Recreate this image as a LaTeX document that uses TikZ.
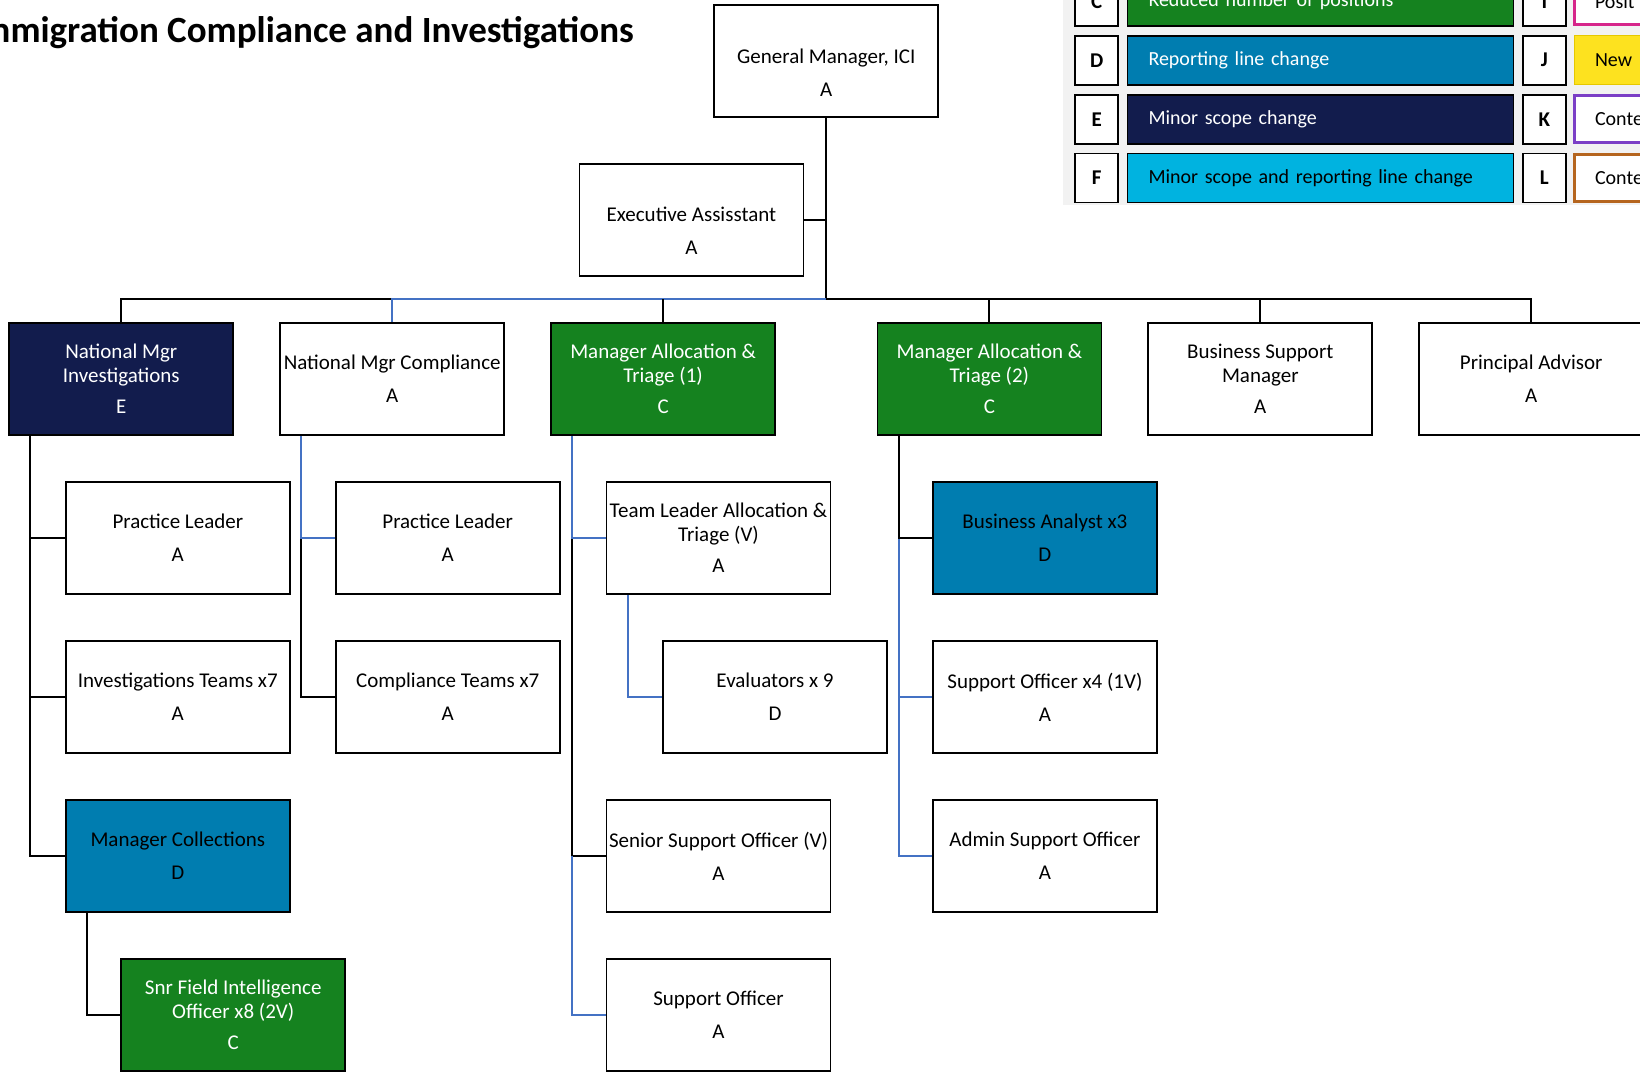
\documentclass[tikz,border=0pt]{standalone}
\usepackage{fontspec}
\setmainfont{Carlito}
\usetikzlibrary{backgrounds}
\definecolor{navyE}{HTML}{121C4D}
\definecolor{greenC}{HTML}{15821F}
\definecolor{blueD}{HTML}{007DB0}
\definecolor{cyanF}{HTML}{00B3E0}
\definecolor{lineblue}{HTML}{4472C4}
\definecolor{legbg}{HTML}{F2F2F2}
\definecolor{pinkI}{HTML}{D6258A}
\definecolor{yellowJ}{HTML}{FDE21F}
\definecolor{yellowJb}{HTML}{E6C800}
\definecolor{purpleK}{HTML}{7B3FC6}
\definecolor{brownL}{HTML}{B5651E}
\newcommand\orgnodefont{\fontsize{21}{24}\selectfont}
\newcommand\orgtitlefont{\fontsize{37}{40}\selectfont\bfseries}
\newcommand\orglegfont{\fontsize{20}{22}\selectfont}
\newcommand\orgletfont{\fontsize{21}{22}\selectfont\bfseries}
\tikzset{
  orgbox/.style={draw=black, line width=1.8pt, fill=white, minimum width=224pt, minimum height=112pt,
    inner sep=0pt, align=center, font=\orgnodefont, text=black},
  navybox/.style={orgbox, fill=navyE, text=white},
  greenbox/.style={orgbox, fill=greenC, text=white},
  bluebox/.style={orgbox, fill=blueD, text=black},
  conn/.style={draw=black, line width=2pt},
  bconn/.style={draw=lineblue, line width=2pt},
  letbox/.style={draw=black, line width=1.8pt, fill=white, minimum width=43pt, minimum height=49pt,
    inner sep=0pt, font=\orgletfont},
  colbox/.style={draw=black, line width=1.8pt, text width=344pt, inner xsep=21pt, inner ysep=0pt,
    minimum height=49pt, align=left, font=\orglegfont},
  rbox/.style={line width=3pt, fill=white, text width=100pt, inner xsep=21pt, inner ysep=0pt,
    minimum height=47pt, align=left, font=\orglegfont, text=black}
}
\begin{document}
\begin{tikzpicture}[x=1pt,y=-1pt]
\useasboundingbox (0,0) rectangle (1640,1073);
% title
\node[anchor=base east, font=\orgtitlefont, inner sep=0pt] (title) at (634,43) {Immigration Compliance and Investigations};
% legend panel
\fill[legbg] (1062.7,-5) rectangle (1650,205);
\node[letbox] (lC) at (1096.7,1.4) {C};
\node[colbox, fill=greenC, text=white] (cC) at (1320.5,1.4) {Reduced number of positions};
\node[letbox] (lI) at (1544.3,1.4) {I};
\node[rbox, draw=pinkI] (rI) at (1645,1.4) {Posit};
\node[letbox] (lD) at (1096.7,60.2) {D};
\node[colbox, fill=blueD, text=white] (cD) at (1320.5,60.2) {Reporting line change};
\node[letbox] (lJ) at (1544.3,60.2) {J};
\node[rbox, draw=yellowJb, line width=1pt, fill=yellowJ, minimum height=49pt] (rJ) at (1645,60.2) {New};
\node[letbox] (lE) at (1096.7,119.2) {E};
\node[colbox, fill=navyE, text=white] (cE) at (1320.5,119.2) {Minor scope change};
\node[letbox] (lK) at (1544.3,119.2) {K};
\node[rbox, draw=purpleK] (rK) at (1645,119.2) {Conte};
\node[letbox] (lF) at (1096.7,178.0) {F};
\node[colbox, fill=cyanF, text=black] (cF) at (1320.5,178.0) {Minor scope and reporting line change};
\node[letbox] (lL) at (1544.3,178.0) {L};
\node[rbox, draw=brownL] (rL) at (1645,178.0) {Conte};
% top
\node[orgbox] (gm) at (826.3,61.2) {\rule{0pt}{38pt}General Manager, ICI\\[9pt]A};
\node[orgbox] (ea) at (691.4,220.2) {\rule{0pt}{36pt}Executive Assisstant\\[9pt]A};
% row 1
\node[navybox] (nmi) at (121.3,379.1) {National Mgr\\Investigations\\[7pt]E};
\node[orgbox] (nmc) at (392.2,379.1) {National Mgr Compliance\\[9pt]A};
\node[greenbox] (mat1) at (663.1,379.1) {Manager Allocation \&\\Triage (1)\\[7pt]C};
\node[greenbox] (mat2) at (989.4,379.1) {Manager Allocation \&\\Triage (2)\\[7pt]C};
\node[orgbox] (bsm) at (1260.3,379.1) {Business Support\\Manager\\[7pt]A};
\node[orgbox] (pa) at (1531.2,379.1) {Principal Advisor\\[9pt]A};
% children
\node[orgbox] (pl1) at (177.8,538.1) {Practice Leader\\[9pt]A};
\node[orgbox] (it) at (177.8,697.1) {Investigations Teams x7\\[9pt]A};
\node[bluebox] (mc) at (177.8,856.1) {Manager Collections\\[9pt]D};
\node[greenbox] (sfio) at (233.2,1015.1) {Snr Field Intelligence\\Officer x8 (2V)\\[7pt]C};
\node[orgbox] (pl2) at (447.7,538.1) {Practice Leader\\[9pt]A};
\node[orgbox] (ct) at (447.7,697.1) {Compliance Teams x7\\[9pt]A};
\node[orgbox] (tlat) at (718.5,538.1) {Team Leader Allocation \&\\Triage (V)\\[7pt]A};
\node[orgbox] (ev) at (775.0,697.1) {Evaluators x 9\\[9pt]D};
\node[orgbox] (sso) at (718.5,856.1) {Senior Support Officer (V)\\[9pt]A};
\node[orgbox] (so) at (718.5,1015.1) {Support Officer\\[9pt]A};
\node[bluebox] (ba) at (1044.9,538.1) {Business Analyst x3\\[9pt]D};
\node[orgbox] (so4) at (1044.9,697.1) {Support Officer x4 (1V)\\[9pt]A};
\node[orgbox] (aso) at (1044.9,856.1) {Admin Support Officer\\[9pt]A};
% connectors
\begin{scope}[on background layer]
\coordinate (busc) at (826.3,299.1);
\draw[conn] (gm.south) -- (busc);
\draw[conn] (ea.east) -- (ea.east -| gm.south);
\draw[conn] (nmi.north) |- (busc);
\draw[conn] (pa.north) |- (busc);
\draw[bconn] (nmc.north) |- (busc);
\draw[conn] (mat1.north) -- (mat1.north |- busc);
\draw[conn] (mat2.north) -- (mat2.north |- busc);
\draw[conn] (bsm.north) -- (bsm.north |- busc);
\coordinate (nmiS) at ([xshift=22pt]nmi.south west);
\draw[conn] (nmiS) |- (pl1.west);
\draw[conn] (nmiS) |- (it.west);
\draw[conn] (nmiS) |- (mc.west);
\coordinate (mcS) at ([xshift=22pt]mc.south west);
\draw[conn] (mcS) |- (sfio.west);
\coordinate (nmcS) at ([xshift=22pt]nmc.south west);
\draw[conn] (nmcS |- pl2.west) |- (ct.west);
\draw[bconn] (nmcS) |- (pl2.west);
\coordinate (m1S) at ([xshift=22pt]mat1.south west);
\draw[conn] (m1S |- tlat.west) |- (sso.west);
\draw[bconn] (m1S) |- (tlat.west);
\draw[bconn] (m1S |- sso.west) |- (so.west);
\coordinate (tS) at ([xshift=22pt]tlat.south west);
\draw[bconn] (tS) |- (ev.west);
\coordinate (m2S) at ([xshift=22pt]mat2.south west);
\draw[bconn] (m2S |- ba.west) |- (so4.west);
\draw[bconn] (m2S |- ba.west) |- (aso.west);
\draw[conn] (m2S) |- (ba.west);
\end{scope}
\end{tikzpicture}
\end{document}
